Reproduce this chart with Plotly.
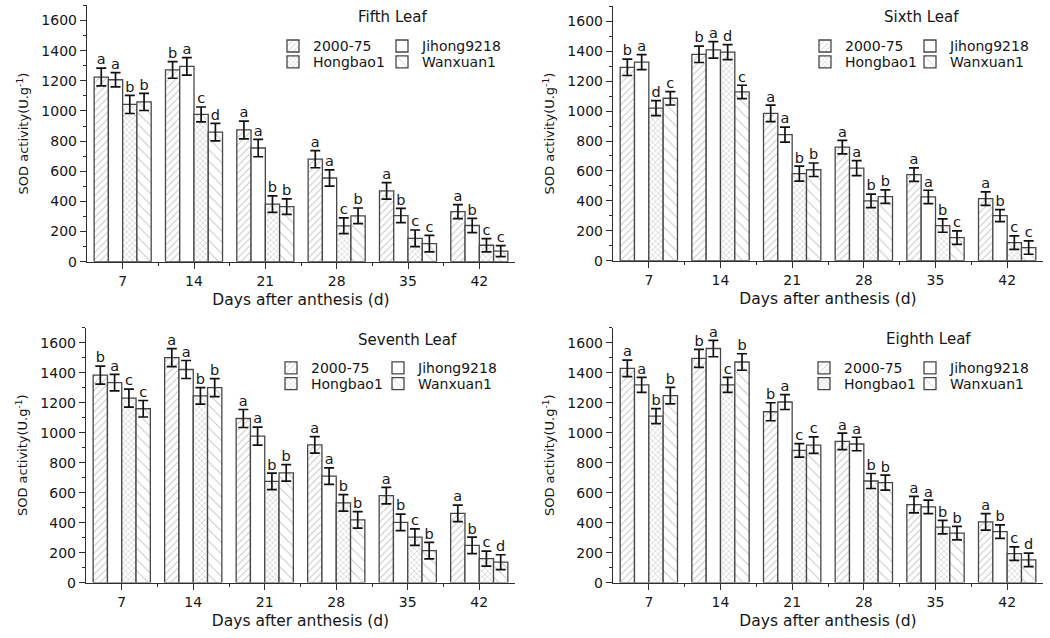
import plotly.graph_objects as go

# ---------------- data ----------------
days = [7, 14, 21, 28, 35, 42]
day_labels = ["7", "14", "21", "28", "35", "42"]
cultivars = ["2000-75", "Jihong9218", "Hongbao1", "Wanxuan1"]
panel_titles = ["Fifth Leaf", "Sixth Leaf", "Seventh Leaf", "Eighth Leaf"]
y_ticks = [0, 200, 400, 600, 800, 1000, 1200, 1400, 1600]

# Fifth leaf
fifth_2000_75 = [1225, 1272, 874, 680, 470, 332]
fifth_jihong9218 = [1207, 1296, 754, 555, 306, 240]
fifth_hongbao1 = [1043, 977, 382, 238, 155, 109]
fifth_wanxuan1 = [1060, 859, 365, 304, 120, 70]
fifth_err_2000_75 = [59, 55, 59, 57, 55, 47]
fifth_err_jihong9218 = [47, 58, 58, 54, 47, 47]
fifth_err_hongbao1 = [60, 49, 55, 52, 55, 44]
fifth_err_wanxuan1 = [57, 58, 51, 52, 55, 36]
fifth_let_2000_75 = ["a", "b", "a", "a", "a", "a"]
fifth_let_jihong9218 = ["a", "a", "a", "a", "b", "b"]
fifth_let_hongbao1 = ["b", "c", "b", "c", "c", "c"]
fifth_let_wanxuan1 = ["b", "d", "b", "b", "c", "c"]

# Sixth leaf
sixth_2000_75 = [1293, 1380, 985, 759, 575, 415]
sixth_jihong9218 = [1328, 1409, 843, 619, 426, 301]
sixth_hongbao1 = [1020, 1394, 582, 400, 235, 121]
sixth_wanxuan1 = [1086, 1128, 608, 428, 154, 88]
sixth_err_2000_75 = [55, 55, 55, 45, 45, 45]
sixth_err_jihong9218 = [50, 55, 50, 50, 45, 40]
sixth_err_hongbao1 = [50, 50, 50, 45, 45, 45]
sixth_err_wanxuan1 = [45, 45, 45, 45, 45, 45]
sixth_let_2000_75 = ["b", "b", "a", "a", "a", "a"]
sixth_let_jihong9218 = ["a", "a", "a", "a", "a", "b"]
sixth_let_hongbao1 = ["d", "d", "b", "b", "b", "c"]
sixth_let_wanxuan1 = ["c", "c", "b", "b", "c", "c"]

# Seventh leaf
seventh_2000_75 = [1385, 1501, 1095, 919, 580, 462]
seventh_jihong9218 = [1334, 1422, 978, 710, 402, 248]
seventh_hongbao1 = [1231, 1246, 675, 532, 303, 160]
seventh_wanxuan1 = [1160, 1301, 732, 418, 213, 136]
seventh_err_2000_75 = [60, 60, 60, 55, 55, 55]
seventh_err_jihong9218 = [55, 60, 60, 55, 55, 55]
seventh_err_hongbao1 = [60, 55, 55, 55, 55, 50]
seventh_err_wanxuan1 = [55, 60, 55, 55, 55, 50]
seventh_let_2000_75 = ["b", "a", "a", "a", "a", "a"]
seventh_let_jihong9218 = ["a", "a", "a", "a", "b", "b"]
seventh_let_hongbao1 = ["c", "b", "b", "b", "c", "c"]
seventh_let_wanxuan1 = ["c", "b", "b", "b", "b", "d"]

# Eighth leaf
eighth_2000_75 = [1430, 1496, 1140, 942, 520, 405]
eighth_jihong9218 = [1320, 1562, 1205, 925, 505, 340]
eighth_hongbao1 = [1111, 1320, 882, 678, 370, 193]
eighth_wanxuan1 = [1248, 1472, 917, 667, 330, 152]
eighth_err_2000_75 = [55, 60, 60, 55, 55, 55]
eighth_err_jihong9218 = [50, 55, 50, 45, 45, 45]
eighth_err_hongbao1 = [50, 50, 45, 50, 45, 45]
eighth_err_wanxuan1 = [55, 55, 55, 50, 45, 45]
eighth_let_2000_75 = ["a", "b", "b", "a", "a", "a"]
eighth_let_jihong9218 = ["a", "a", "a", "a", "a", "b"]
eighth_let_hongbao1 = ["b", "c", "c", "b", "b", "c"]
eighth_let_wanxuan1 = ["b", "b", "c", "b", "b", "d"]

values = [
    [fifth_2000_75, fifth_jihong9218, fifth_hongbao1, fifth_wanxuan1],
    [sixth_2000_75, sixth_jihong9218, sixth_hongbao1, sixth_wanxuan1],
    [seventh_2000_75, seventh_jihong9218, seventh_hongbao1, seventh_wanxuan1],
    [eighth_2000_75, eighth_jihong9218, eighth_hongbao1, eighth_wanxuan1],
]
errors = [
    [fifth_err_2000_75, fifth_err_jihong9218, fifth_err_hongbao1, fifth_err_wanxuan1],
    [sixth_err_2000_75, sixth_err_jihong9218, sixth_err_hongbao1, sixth_err_wanxuan1],
    [seventh_err_2000_75, seventh_err_jihong9218, seventh_err_hongbao1, seventh_err_wanxuan1],
    [eighth_err_2000_75, eighth_err_jihong9218, eighth_err_hongbao1, eighth_err_wanxuan1],
]
letters = [
    [fifth_let_2000_75, fifth_let_jihong9218, fifth_let_hongbao1, fifth_let_wanxuan1],
    [sixth_let_2000_75, sixth_let_jihong9218, sixth_let_hongbao1, sixth_let_wanxuan1],
    [seventh_let_2000_75, seventh_let_jihong9218, seventh_let_hongbao1, seventh_let_wanxuan1],
    [eighth_let_2000_75, eighth_let_jihong9218, eighth_let_hongbao1, eighth_let_wanxuan1],
]

# ---------------- styling / layout ----------------
W, H = 1050, 638
FONT = "DejaVu Sans"
TXT = "#161616"
LINE = "#2e2e2e"

patterns = [
    dict(shape="/", size=5, solidity=0.2, fgcolor="#8c8c8c", bgcolor="white"),
    dict(shape="", fgcolor="#8c8c8c", bgcolor="white"),
    dict(shape="x", size=4, solidity=0.3, fgcolor="#9a9a9a", bgcolor="white"),
    dict(shape="\\", size=8, solidity=0.12, fgcolor="#8c8c8c", bgcolor="white"),
]

bar_w = 1.4  # width of one bar in day units (group spans 4 bars)

# panel pixel geometry: (x_left, x_right, y_bottom, y_top)
panel_px = [
    (87, 515, 265, 5.5),
    (613, 1043, 264, 6.5),
    (86, 515, 590, 332),
    (613, 1043, 590, 332),
]
title_px = [(392, 17), (922, 17), (407, 344), (928, 343)]
# legend text start x for col1/col2, row centers
legend_px = [
    ((313, 422), (47, 63)),
    ((845, 950), (47, 63)),
    ((311, 418), (373, 389)),
    ((844, 950), (373, 389)),
]

fig = go.Figure()
layout = dict(
    width=W, height=H,
    margin=dict(l=0, r=0, t=0, b=0),
    paper_bgcolor="white", plot_bgcolor="white",
    barmode="overlay",
    font=dict(family=FONT, color=TXT, size=14),
    annotations=[],
)

for p in range(4):
    sfx = "" if p == 0 else str(p + 1)
    xa, ya = "x" + sfx, "y" + sfx
    for j in range(4):
        off = -2 * bar_w + j * bar_w
        leg_id = p * 4 + j + 1
        leg_name = "legend" if leg_id == 1 else "legend%d" % leg_id
        fig.add_trace(go.Bar(
            x=days, y=values[p][j],
            width=bar_w, offset=off,
            xaxis=xa, yaxis=ya,
            name=cultivars[j],
            legend=leg_name,
            showlegend=True,
            marker=dict(color="white", pattern=patterns[j],
                        line=dict(color="#474747", width=1.3)),
            error_y=dict(type="data", array=errors[p][j], color="#111111",
                         thickness=1.7, width=5),
        ))
        fig.add_trace(go.Scatter(
            x=[d + off + bar_w / 2 for d in days],
            y=[v + e for v, e in zip(values[p][j], errors[p][j])],
            text=letters[p][j], mode="text", textposition="top center",
            textfont=dict(family=FONT, size=14.5, color=TXT),
            xaxis=xa, yaxis=ya, showlegend=False, hoverinfo="skip",
            cliponaxis=False,
        ))
        # legend placement
        col = j % 2
        row = j // 2
        tx = legend_px[p][0][col]
        ty = legend_px[p][1][row]
        layout[leg_name] = dict(
            x=(tx - 40) / W, y=1 - ty / H, xanchor="left", yanchor="middle",
            bgcolor="rgba(0,0,0,0)", borderwidth=0,
            font=dict(family=FONT, size=14, color=TXT),
            itemwidth=30, orientation="v",
        )

    xl, xr, yb, yt = panel_px[p]
    layout["xaxis" + sfx] = dict(
        domain=[xl / W, xr / W], anchor=ya,
        range=[3.5, 45.5],
        tickmode="array", tickvals=days, ticktext=day_labels,
        ticks="outside", ticklen=6, tickwidth=1.3, tickcolor=LINE,
        minor=dict(tickmode="array",
                   tickvals=[d + 3.5 for d in days[:-1]],
                   ticks="outside", ticklen=3, tickwidth=1, tickcolor=LINE),
        showline=True, linecolor=LINE, linewidth=1.4,
        showgrid=False, zeroline=False,
        tickfont=dict(family=FONT, size=14, color=TXT),
        title=dict(text="Days after anthesis (d)", standoff=6,
                   font=dict(family=FONT, size=15.5, color=TXT)),
        fixedrange=True,
    )
    layout["yaxis" + sfx] = dict(
        domain=[1 - yb / H, 1 - yt / H], anchor=xa,
        range=[0, 1700],
        tickmode="array", tickvals=y_ticks,
        ticks="outside", ticklen=6, tickwidth=1.3, tickcolor=LINE,
        minor=dict(dtick=100, tick0=0, ticks="outside", ticklen=3,
                   tickwidth=1, tickcolor=LINE),
        showline=True, linecolor=LINE, linewidth=1.4,
        showgrid=False, zeroline=False,
        tickfont=dict(family=FONT, size=14, color=TXT),
        title=dict(text="SOD activity(U.g<sup>-1</sup>)", standoff=9,
                   font=dict(family=FONT, size=13, color=TXT)),
        fixedrange=True,
    )
    tx, ty = title_px[p]
    layout["annotations"].append(dict(
        text=panel_titles[p], x=tx / W, y=1 - ty / H, xref="paper", yref="paper",
        showarrow=False, xanchor="center", yanchor="middle",
        font=dict(family=FONT, size=15, color=TXT),
    ))

fig.update_layout(**layout)
fig.write_html("out.html")
